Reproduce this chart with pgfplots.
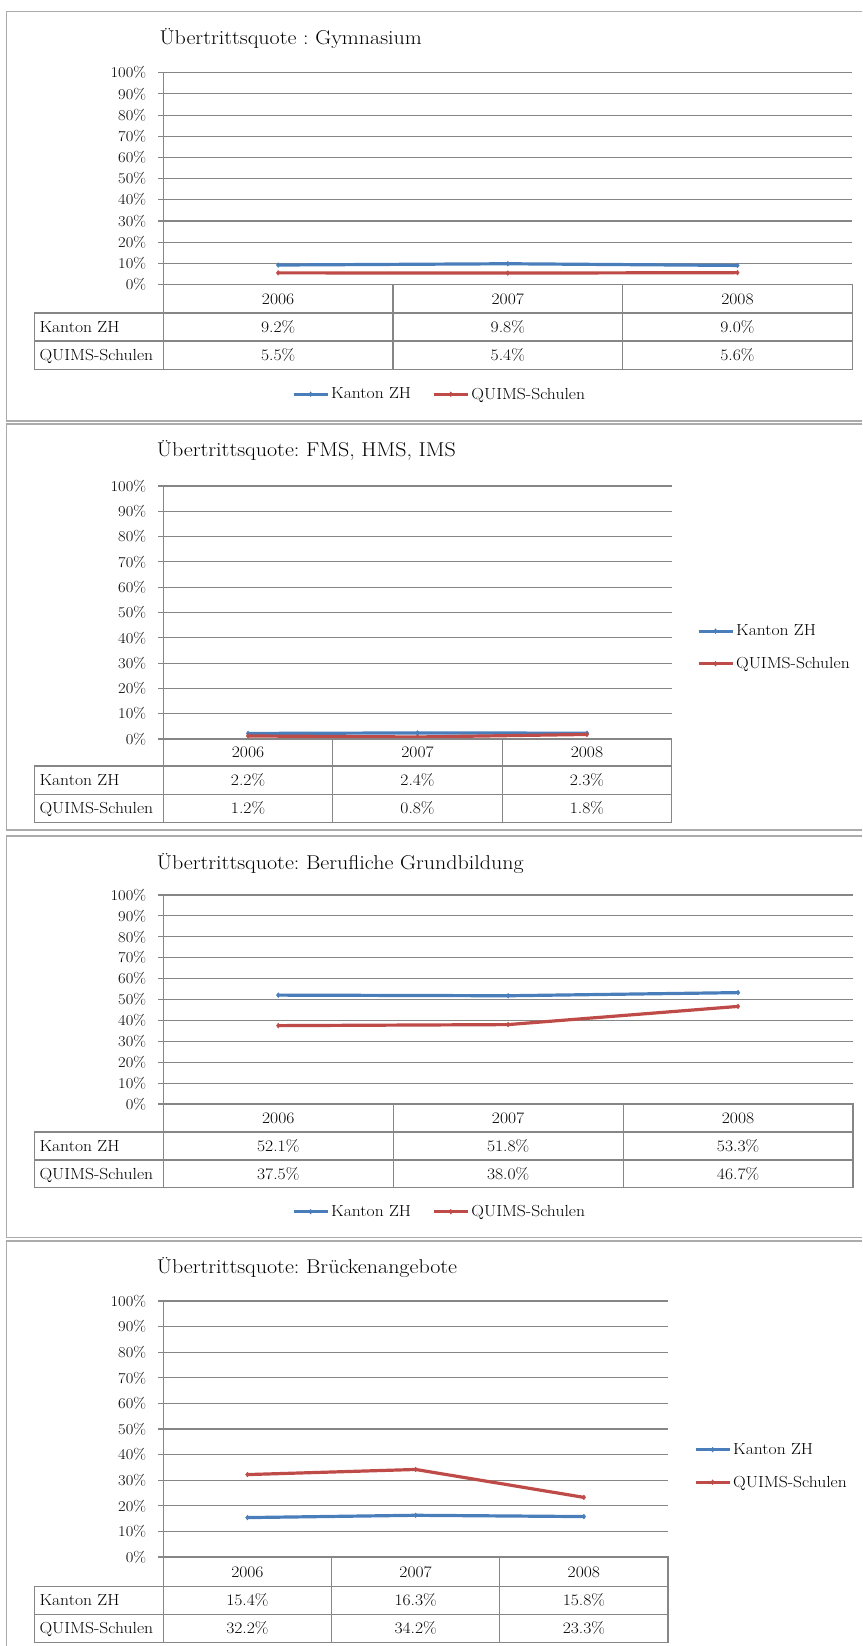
\documentclass[border=0pt]{standalone}
\usepackage{fontspec}
\setmainfont{Latin Modern Roman}[FakeStretch=1.1]
\usepackage{pgfplots}
\pgfplotsset{compat=1.18}
\definecolor{kblue}{HTML}{4A7EBB}
\definecolor{qred}{HTML}{BE4B48}
\definecolor{gridc}{HTML}{868686}
\definecolor{framec}{HTML}{ABABAB}
\newcommand\tickfont{\fontsize{15}{18}\selectfont}
\newcommand\tabfont{\fontsize{16}{19}\selectfont}
\newcommand\titlefont{\fontsize{20}{24}\selectfont}
\frenchspacing

\pgfplotsset{
 panel/.style={scale only axis, anchor=south west,
   xmin=-0.5, xmax=2.5, ymin=0, ymax=100,
   axis lines*=left, xtick=\empty,
   ytick={0,10,...,100},
   yticklabels={0\%,10\%,20\%,30\%,40\%,50\%,60\%,70\%,80\%,90\%,100\%},
   ymajorgrids, grid style={gridc, line width=1.1pt},
   axis line style={gridc, line width=1.1pt},
   tick align=outside, major tick length=5pt,
   tick style={gridc, line width=1.1pt},
   yticklabel style={font=\tickfont, inner sep=0pt, xshift=-12pt},
   clip=false,
   legend image code/.code={\draw[mark repeat=2,mark phase=2,##1] plot coordinates {(0pt,0pt) (17pt,0pt) (34pt,0pt)};},
   legend style={draw=none, fill=none, font=\tabfont, inner sep=0pt},
   legend cell align=left,
 },
 kz/.style={kblue, line width=3.2pt, mark=diamond*, mark size=2.4pt, mark options={solid, line width=0.4pt}},
 qs/.style={qred, line width=3.2pt, mark=diamond*, mark size=2.4pt, mark options={solid, line width=0.4pt}},
 horizleg/.style={legend columns=2, legend style={/tikz/every even column/.append style={column sep=19pt}}},
 vertleg/.style={legend style={row sep=16pt}},
}

\tikzset{
 tbl/.style={draw=gridc, line width=1.1pt},
 tabnode/.style={font=\tabfont, inner sep=0pt},
 frm/.style={draw=framec, line width=1.6pt},
}

\newcommand\drawtable[7]{%
 \pgfmathsetmacro\cw{(#2-#1)/3}%
 \draw[tbl] (#1,-#3) -- (#2,-#3) -- (#2,-#6) -- (34.7,-#6) -- (34.7,-#4) -- (#2,-#4);
 \draw[tbl] (34.7,-#5) -- (#2,-#5);
 \draw[tbl] (#1,-#3) -- (#1,-#6);
 \draw[tbl] ({#1+\cw},-#3) -- ({#1+\cw},-#6);
 \draw[tbl] ({#1+2*\cw},-#3) -- ({#1+2*\cw},-#6);
 \node[tabnode, anchor=base west] at (39.3, {-(#4+#5)/2-5.4}) {Kanton ZH};
 \node[tabnode, anchor=base west] at (39.3, {-(#5+#6)/2-5.4}) {QUIMS-Schulen};
 \foreach \i/\yr/\k/\q in {#7} {
   \node[tabnode, anchor=base] at ({#1+(\i+0.5)*\cw}, {-(#3+#4)/2-5.4}) {\yr};
   \node[tabnode, anchor=base] at ({#1+(\i+0.5)*\cw}, {-(#4+#5)/2-5.4}) {\k\%};
   \node[tabnode, anchor=base] at ({#1+(\i+0.5)*\cw}, {-(#5+#6)/2-5.4}) {\q\%};
 }
}

\begin{document}
\begin{tikzpicture}[x=1pt, y=1pt]
\useasboundingbox (0,0) rectangle (862,-1646);

% frames
\draw[frm] (862,-11.7) -| (6.6,-420.7) -- (862,-420.7);
\draw[frm] (862,-424) -| (6.6,-830) -- (862,-830);
\draw[frm] (862,-836) -| (6.6,-1237.3) -- (862,-1237.3);
\draw[frm] (862,-1241) -| (6.6,-1650);

% titles
\node[anchor=base west, font=\titlefont, inner sep=0pt] at (159.3,-45) {Übertrittsquote : Gymnasium};
\node[anchor=base west, font=\titlefont, inner sep=0pt] at (156.7,-456) {Übertrittsquote: FMS, HMS, IMS};
\node[anchor=base west, font=\titlefont, inner sep=0pt] at (156.7,-869) {Übertrittsquote: Berufliche Grundbildung};
\node[anchor=base west, font=\titlefont, inner sep=0pt] at (156.7,-1273) {Übertrittsquote: Brückenangebote};

% Panel 1
\begin{axis}[panel, horizleg, at={(163.3pt,-284.5pt)}, width=689pt, height=211.8pt,
  legend style={at={(0.4009,-0.518)}, anchor=center}]
\addplot[kz] coordinates {(0,9.2) (1,9.8) (2,9.0)};
\addlegendentry{Kanton ZH}
\addplot[qs] coordinates {(0,5.5) (1,5.4) (2,5.6)};
\addlegendentry{QUIMS-Schulen}
\end{axis}
\drawtable{163.3}{852.3}{284.5}{313}{341}{369.3}{0/2006/9.2/5.5,1/2007/9.8/5.4,2/2008/9.0/5.6}

% Panel 2
\begin{axis}[panel, vertleg, at={(163.3pt,-739pt)}, width=508.4pt, height=253pt,
  legend style={at={(1.0492,0.3617)}, anchor=west}]
\addplot[kz] coordinates {(0,2.2) (1,2.4) (2,2.3)};
\addlegendentry{Kanton ZH}
\addplot[qs] coordinates {(0,1.2) (1,0.8) (2,1.8)};
\addlegendentry{QUIMS-Schulen}
\end{axis}
\drawtable{163.3}{671.7}{739}{766}{794.7}{822.3}{0/2006/2.2/1.2,1/2007/2.4/0.8,2/2008/2.3/1.8}

% Panel 3
\begin{axis}[panel, horizleg, at={(163.3pt,-1104pt)}, width=689.7pt, height=209pt,
  legend style={at={(0.4005,-0.5153)}, anchor=center}]
\addplot[kz] coordinates {(0,52.1) (1,51.8) (2,53.3)};
\addlegendentry{Kanton ZH}
\addplot[qs] coordinates {(0,37.5) (1,38.0) (2,46.7)};
\addlegendentry{QUIMS-Schulen}
\end{axis}
\drawtable{163.3}{853}{1104}{1132}{1160}{1187.3}{0/2006/52.1/37.5,1/2007/51.8/38.0,2/2008/53.3/46.7}

% Panel 4
\begin{axis}[panel, vertleg, at={(163.3pt,-1557pt)}, width=504.7pt, height=256pt,
  legend style={at={(1.0511,0.3555)}, anchor=west}]
\addplot[kz] coordinates {(0,15.4) (1,16.3) (2,15.8)};
\addlegendentry{Kanton ZH}
\addplot[qs] coordinates {(0,32.2) (1,34.2) (2,23.3)};
\addlegendentry{QUIMS-Schulen}
\end{axis}
\drawtable{163.3}{668}{1557}{1586.7}{1614.3}{1642.7}{0/2006/15.4/32.2,1/2007/16.3/34.2,2/2008/15.8/23.3}
\end{tikzpicture}
\end{document}
